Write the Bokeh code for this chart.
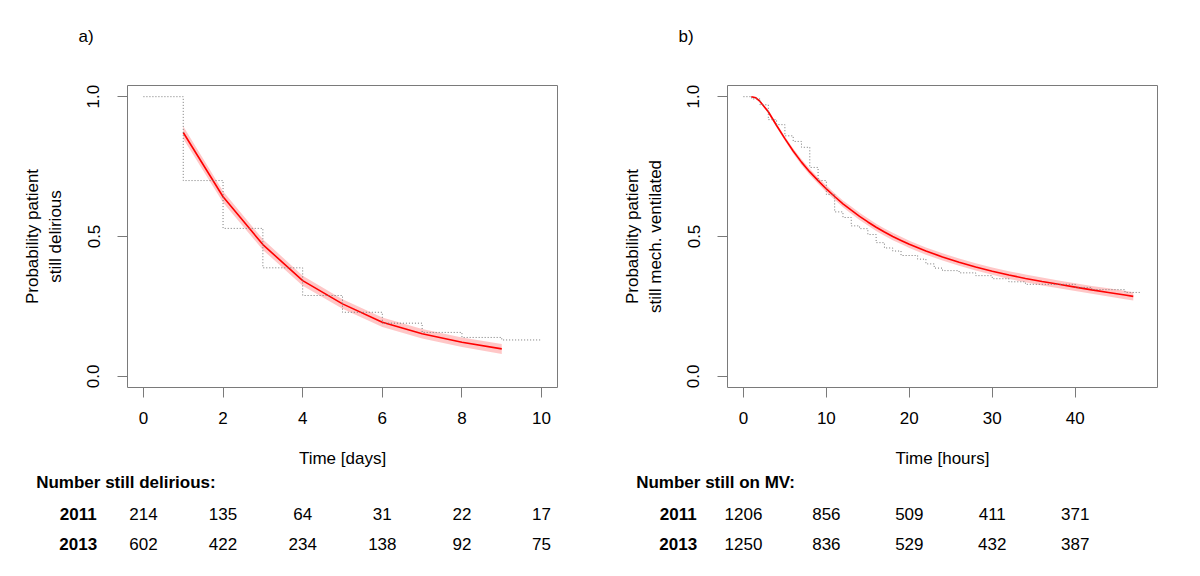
from bokeh.plotting import figure
from bokeh.models import Range1d, FixedTicker
from bokeh.layouts import row, column
from bokeh.core.properties import value
from bokeh.embed import file_html
from bokeh.resources import INLINE

# ---------------- Panel a) delirium ----------------
delir_km_days = [0, 1, 2, 3, 4, 5, 6, 7, 8, 9, 10]
delir_km_prob = [1.0, 0.70, 0.529, 0.388, 0.289, 0.229, 0.190, 0.157, 0.139, 0.130, 0.130]
delir_fit_days = [1, 2, 3, 4, 5, 6, 7, 8, 9]
delir_fit_prob = [0.872, 0.642, 0.471, 0.342, 0.259, 0.193, 0.152, 0.122, 0.098]
delir_fit_ci = [0.022, 0.020, 0.019, 0.018, 0.017, 0.017, 0.017, 0.017, 0.018]
delir_ticks = [0, 2, 4, 6, 8, 10]
delir_n_2011 = [214, 135, 64, 31, 22, 17]
delir_n_2013 = [602, 422, 234, 138, 92, 75]

# ---------------- Panel b) mechanical ventilation ----------------
mv_km_hours = [0, 1, 2, 3, 4, 5, 6, 7, 8, 9, 10, 11, 12, 13, 14, 15, 16, 17, 18, 19,
               21, 22, 23, 24, 26, 28, 30, 32, 34, 40, 42, 46, 48]
mv_km_prob = [1.0, 0.992, 0.971, 0.918, 0.900, 0.860, 0.840, 0.819, 0.747, 0.700,
              0.650, 0.588, 0.568, 0.538, 0.528, 0.507, 0.478, 0.459, 0.448, 0.432,
              0.419, 0.402, 0.387, 0.378, 0.370, 0.360, 0.349, 0.338, 0.329, 0.318,
              0.310, 0.300, 0.300]
mv_fit_hours = [0.95, 1.5, 2, 3, 4, 5, 6, 7, 8, 9, 10, 11, 12, 13, 14, 15, 16, 17, 18,
                19, 20, 22, 24, 26, 28, 30, 32, 34, 36, 38, 40, 42, 44, 46, 47]
mv_fit_prob = [1.0, 0.996, 0.983, 0.946, 0.897, 0.850, 0.806, 0.766, 0.731, 0.700,
               0.670, 0.643, 0.617, 0.594, 0.572, 0.552, 0.533, 0.516, 0.500, 0.486,
               0.472, 0.448, 0.427, 0.408, 0.391, 0.376, 0.362, 0.350, 0.339, 0.329,
               0.319, 0.309, 0.300, 0.291, 0.286]
mv_fit_ci = [0.002, 0.003, 0.004, 0.006, 0.007, 0.008, 0.009, 0.010, 0.011, 0.011,
             0.012, 0.012, 0.012, 0.013, 0.013, 0.013, 0.013, 0.013, 0.013, 0.013,
             0.013, 0.013, 0.013, 0.013, 0.013, 0.013, 0.014, 0.014, 0.014, 0.014,
             0.014, 0.014, 0.015, 0.015, 0.015]
mv_ticks = [0, 10, 20, 30, 40]
mv_n_2011 = [1206, 856, 509, 411, 371]
mv_n_2013 = [1250, 836, 529, 432, 387]

FONT = "Liberation Sans"
FS = "17px"
GRAY = "#7a7a7a"
FRAME_W = 430
FRAME_H = 302
HEAD_H = 50
TOP = 35
BOTTOM = 86
TABLE_H = 87
LEFT_A, RIGHT_A = 127, 43
LEFT_B, RIGHT_B = 127, 27
W_A = LEFT_A + FRAME_W + RIGHT_A
W_B = LEFT_B + FRAME_W + RIGHT_B
TW = W_A + W_B


def panel(x_max, ticks, xlabel, ylabel, km_x, km_y, fit_x, fit_y, fit_ci, left, right):
    pad = 0.04 * x_max
    p = figure(width=left + FRAME_W + right, height=TOP + FRAME_H + BOTTOM,
               output_backend="svg", toolbar_location=None,
               x_range=Range1d(-pad, x_max + pad), y_range=Range1d(-0.04, 1.04),
               min_border_left=left, min_border_right=right,
               min_border_top=TOP, min_border_bottom=BOTTOM)
    p.xgrid.visible = False
    p.ygrid.visible = False
    p.outline_line_color = GRAY
    p.outline_line_width = 1

    lo = [v - c for v, c in zip(fit_y, fit_ci)]
    hi = [v + c for v, c in zip(fit_y, fit_ci)]
    p.varea(x=fit_x, y1=lo, y2=hi, fill_color="#ff0000", fill_alpha=0.22)
    p.line(fit_x, fit_y, line_color="#ff0000", line_width=1.6)
    p.step(km_x, km_y, mode="after", line_color="#777777", line_width=1,
           line_dash="1 2")

    for ax in (p.xaxis[0], p.yaxis[0]):
        ax.axis_line_color = None
        ax.major_tick_line_color = GRAY
        ax.major_tick_out = 10
        ax.major_tick_in = 0
        ax.minor_tick_line_color = None
        ax.major_label_text_font = FONT
        ax.major_label_text_font_size = FS
        ax.major_label_text_color = "black"
        ax.axis_label_text_font = FONT
        ax.axis_label_text_font_size = FS
        ax.axis_label_text_font_style = "normal"
        ax.axis_label_text_color = "black"

    xa = p.xaxis[0]
    xa.ticker = FixedTicker(ticks=ticks)
    xa.major_label_standoff = 14
    xa.axis_label = xlabel
    xa.axis_label_standoff = 22

    ya = p.yaxis[0]
    ya.ticker = FixedTicker(ticks=[0, 0.5, 1])
    ya.major_label_overrides = {0: "0.0", 0.5: "0.5", 1: "1.0"}
    ya.major_label_orientation = "vertical"
    ya.major_label_standoff = 18
    ya.axis_label = ylabel
    ya.axis_label_standoff = 20
    return p


pa = panel(10, delir_ticks, "Time [days]", "Probability patient\nstill delirious",
           delir_km_days, delir_km_prob, delir_fit_days, delir_fit_prob, delir_fit_ci,
           LEFT_A, RIGHT_A)
pb = panel(48, mv_ticks, "Time [hours]", "Probability patient\nstill mech. ventilated",
           mv_km_hours, mv_km_prob, mv_fit_hours, mv_fit_prob, mv_fit_ci,
           LEFT_B, RIGHT_B)


def strip_range(p, frame_left_px):
    xs, xe = p.x_range.start, p.x_range.end
    scale = FRAME_W / (xe - xs)
    start = xs - frame_left_px / scale
    return Range1d(start, start + TW / scale), xs, scale


def strip(height, ra, rb):
    s = figure(width=TW, height=height, output_backend="svg", toolbar_location=None,
               min_border=0, x_range=ra, y_range=Range1d(height, 0),
               x_axis_location=None, y_axis_location=None)
    s.extra_x_ranges = {"mv": rb}
    s.outline_line_color = None
    s.xgrid.visible = False
    s.ygrid.visible = False
    return s


rng_a, xs_a, sc_a = strip_range(pa, LEFT_A)
rng_b, xs_b, sc_b = strip_range(pb, W_A + LEFT_B)
hrng_a, _, _ = strip_range(pa, LEFT_A)
hrng_b, _, _ = strip_range(pb, W_A + LEFT_B)

# ----- panel tags strip -----
head = strip(HEAD_H, hrng_a, hrng_b)
for tag, xs, sc, rname in (("a)", xs_a, sc_a, "default"), ("b)", xs_b, sc_b, "mv")):
    head.text(x=[xs - 49 / sc], y=[36], text=[tag], text_font=value(FONT),
              text_font_size=FS, text_align="left", text_baseline="middle",
              text_color="black", x_range_name=rname)

# ----- risk table strip -----
t = strip(TABLE_H, rng_a, rng_b)


def table_rows(xs, sc, rname, ticks, title, n11, n13):
    fx = lambda off: xs + off / sc  # offset in px from the panel frame's left edge
    t.text(x=[fx(-91.3)], y=[8.7], text=[title], text_font=value(FONT),
           text_font_size=FS, text_font_style="bold", text_align="left",
           text_baseline="middle", text_color="black", x_range_name=rname)
    for yr, yy, counts in (("2011", 40, n11), ("2013", 70, n13)):
        t.text(x=[fx(-49.3)], y=[yy], text=[yr], text_font=value(FONT),
               text_font_size=FS, text_font_style="bold", text_align="center",
               text_baseline="middle", text_color="black", x_range_name=rname)
        t.text(x=ticks, y=[yy] * len(ticks), text=[str(c) for c in counts],
               text_font=value(FONT), text_font_size=FS, text_align="center",
               text_baseline="middle", text_color="black", x_range_name=rname)


table_rows(xs_a, sc_a, "default", delir_ticks, "Number still delirious:",
           delir_n_2011, delir_n_2013)
table_rows(xs_b, sc_b, "mv", mv_ticks, "Number still on MV:", mv_n_2011, mv_n_2013)

layout = column(head, row(pa, pb), t)
open("out.html", "w").write(file_html(layout, INLINE))
